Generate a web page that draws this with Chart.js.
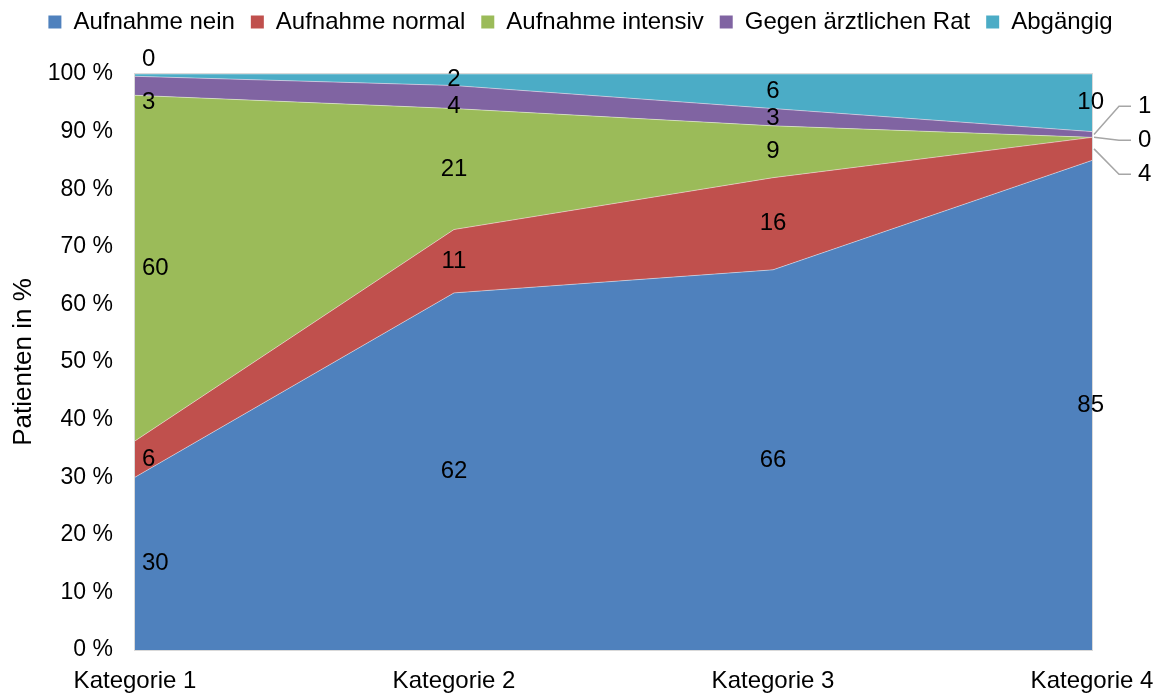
<!DOCTYPE html>
<html>
<head>
<meta charset="utf-8">
<script src="https://cdn.jsdelivr.net/npm/chart.js@4"></script>
<style>
  html, body { margin: 0; padding: 0; background: #fff; }
  #wrap { width: 1161px; height: 693px; }
</style>
</head>
<body>
<div id="wrap"><canvas id="areaChart" width="1161" height="693"></canvas></div>
<script>
const categories = ["Kategorie 1", "Kategorie 2", "Kategorie 3", "Kategorie 4"];
const aufnahmeNein = [30, 62, 66, 85];
const aufnahmeNormal = [6.3, 11, 16, 4];
const aufnahmeIntensiv = [60, 21, 9, 0];
const gegenRat = [3.3, 4, 3, 1];
const abgaengig = [0.4, 2, 6, 10];
const seriesNames = ["Aufnahme nein", "Aufnahme normal", "Aufnahme intensiv", "Gegen ärztlichen Rat", "Abgängig"];
const seriesColors = ["#4F81BD", "#C0504D", "#9BBB59", "#8064A2", "#4BACC6"];
const yTicks = [0, 10, 20, 30, 40, 50, 60, 70, 80, 90, 100];

const series = [aufnahmeNein, aufnahmeNormal, aufnahmeIntensiv, gegenRat, abgaengig];
const FONT = '"Liberation Sans", Arial, sans-serif';

// frame around plot area
const framePlugin = {
  id: "frame",
  afterDatasetsDraw(chart) {
    const a = chart.chartArea;
    const ctx = chart.ctx;
    ctx.save();
    ctx.strokeStyle = "#D9D9D9";
    ctx.lineWidth = 1;
    ctx.strokeRect(a.left - 0.5, a.top - 0.5, a.right - a.left + 1, a.bottom - a.top + 1);
    ctx.restore();
  }
};

// value labels in the middle of each band
const labelPlugin = {
  id: "bandLabels",
  afterDraw(chart) {
    const { ctx, scales: { x, y } } = chart;
    ctx.save();
    ctx.font = "24px " + FONT;
    ctx.fillStyle = "#000";
    ctx.textBaseline = "middle";
    const n = categories.length;
    for (let i = 0; i < n; i++) {
      const px = x.getPixelForValue(i);
      let base = 0;
      const items = [];
      series.forEach((arr, k) => {
        const v = arr[i];
        const y0 = y.getPixelForValue(base);
        const y1 = y.getPixelForValue(base + v);
        items.push({ text: String(Math.round(v)), mid: (y0 + y1) / 2, h: y0 - y1, top: y1 });
        base += v;
      });
      items.reverse(); // top band first

      if (i === n - 1) {
        const outside = items.filter(it => it.h < 25);
        const inside = items.filter(it => it.h >= 25);
        ctx.textAlign = "right";
        inside.forEach(it => ctx.fillText(it.text, px + 12, it.mid));
        if (outside.length) {
          const avg = outside.reduce((s, it) => s + it.mid, 0) / outside.length;
          const lx = px + 46;
          ctx.textAlign = "left";
          ctx.strokeStyle = "#A6A6A6";
          ctx.lineWidth = 1.5;
          outside.forEach((it, j) => {
            const ly = avg + (j - (outside.length - 1) / 2) * 34;
            ctx.beginPath();
            ctx.moveTo(px + 2, it.mid);
            ctx.lineTo(lx - 19, ly);
            ctx.lineTo(lx - 7, ly);
            ctx.stroke();
            ctx.fillText(it.text, lx, ly);
          });
        }
        continue;
      }

      let prev = -Infinity;
      items.forEach(it => {
        let yy = it.mid;
        if (i === 0 && it.h < 8) {
          yy = it.top - 15;
          prev = it.mid;
        } else {
          yy = Math.max(it.mid, prev + 27);
          prev = yy;
        }
        if (i === 0) {
          ctx.textAlign = "left";
          ctx.fillText(it.text, px + 7, yy);
        } else {
          ctx.textAlign = "center";
          ctx.fillText(it.text, px, yy);
        }
      });
    }
    ctx.restore();
  }
};

const datasets = series.map((arr, k) => ({
  label: seriesNames[k],
  data: arr,
  backgroundColor: seriesColors[k],
  borderColor: "rgba(255,255,255,0.45)",
  borderWidth: 1,
  pointRadius: 0,
  tension: 0,
  fill: k === 0 ? "origin" : "-1"
}));

const ctx = document.getElementById("areaChart").getContext("2d");
new Chart(ctx, {
  type: "line",
  data: { labels: categories, datasets: datasets },
  options: {
    responsive: false,
    animation: false,
    layout: { padding: { left: 0, right: 69, top: 0, bottom: 0 } },
    plugins: {
      legend: {
        position: "top",
        labels: {
          font: { size: 24, family: FONT },
          color: "#000",
          boxWidth: 13,
          boxHeight: 13,
          padding: 16,
          generateLabels(chart) {
            return chart.data.datasets.map((d, i) => ({
              text: d.label,
              fillStyle: d.backgroundColor,
              strokeStyle: d.backgroundColor,
              lineWidth: 0,
              datasetIndex: i
            }));
          }
        }
      },
      tooltip: { enabled: false }
    },
    scales: {
      x: {
        offset: false,
        grid: { display: false, drawTicks: false },
        border: { display: false },
        ticks: { color: "#000", font: { size: 24, family: FONT }, padding: 17, maxRotation: 0, autoSkip: false },
        afterFit(s) {
          s.height = 43;
          s.paddingLeft = 0;
          s.paddingRight = 0;
        }
      },
      y: {
        stacked: true,
        min: 0,
        max: 100,
        grid: { display: false, drawTicks: false },
        border: { display: false },
        afterBuildTicks(s) { s.ticks = yTicks.map(v => ({ value: v })); },
        ticks: {
          color: "#000",
          font: { size: 23, family: FONT },
          padding: 22,
          callback: v => v + " %"
        },
        title: {
          display: true,
          text: "Patienten in %",
          color: "#000",
          font: { size: 26, family: FONT },
          padding: { top: 8, bottom: 0 }
        },
        afterFit(s) {
          s.width = 135;
          s.paddingTop = 0;
          s.paddingBottom = 0;
        }
      }
    }
  },
  plugins: [
    framePlugin,
    labelPlugin,
    {
      id: "legendHeight",
      beforeInit(chart) {
        const fit = chart.legend.fit;
        chart.legend.fit = function () {
          this.maxWidth = this.chart.width;
          fit.call(this);
          this.height = 74;
          this.width = this.chart.width;
        };
      },
      afterLayout(chart) {
        // legend spans the whole canvas, row pulled up
        const lg = chart.legend;
        lg.left = 0;
        lg.right = chart.width;
        lg.width = chart.width;
        lg.top -= 6;
        lg.bottom -= 6;
      }
    }
  ]
});
</script>
</body>
</html>
